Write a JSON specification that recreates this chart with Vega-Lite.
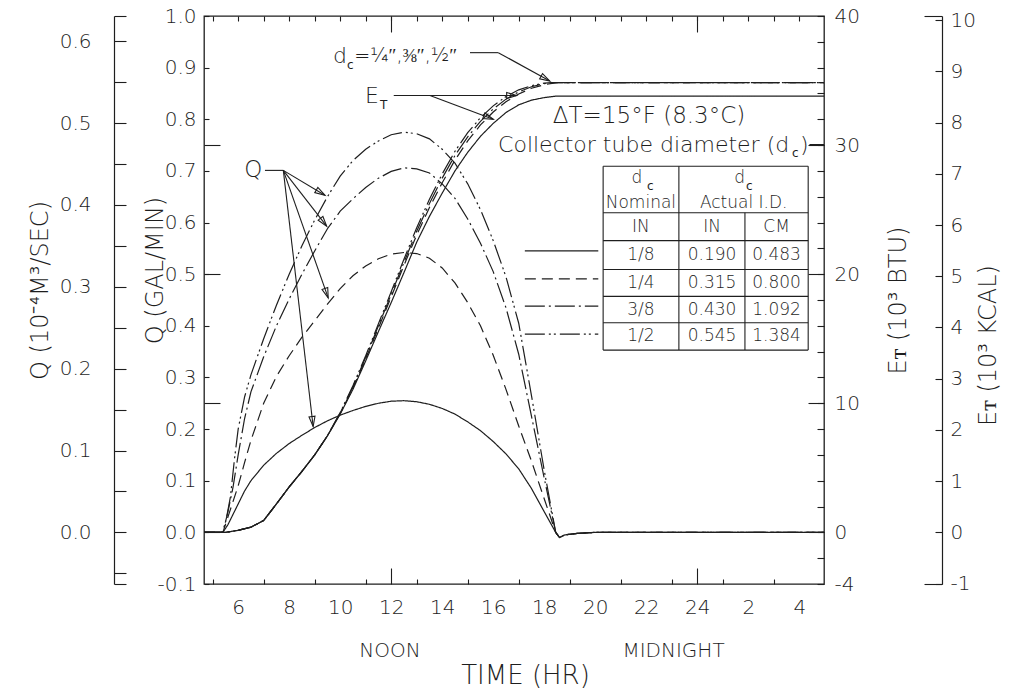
{
  "$schema": "https://vega.github.io/schema/vega-lite/v6.json",
  "width": 620,
  "height": 568,
  "autosize": {"type": "none"},
  "padding": {"left": 204, "top": 16, "right": 186, "bottom": 104},
  "background": "white",
  "config": {
    "view": {"stroke": "#1e1e1e", "strokeWidth": 1.3},
    "axis": {"labelFont": "DejaVu Sans", "labelFontWeight": 200, "labelFontSize": 20, "labelColor": "#1e1e1e", "titleFont": "DejaVu Sans", "titleFontWeight": 200, "titleFontSize": 24, "titleColor": "#1e1e1e", "tickColor": "#1e1e1e", "tickWidth": 1.1, "domainColor": "#1e1e1e", "domainWidth": 1.2, "grid": false, "labelFlush": false, "labelOverlap": false, "labelBound": false},
    "text": {"font": "DejaVu Sans", "fontWeight": 200, "color": "#1e1e1e"}
  },
  "datasets": {
    "q": [
      {"hr":4.66,"q":0,"dc":"1/8"},{"hr":5.4,"q":0,"dc":"1/8"},{"hr":5.6,"q":0.015,"dc":"1/8"},{"hr":5.8,"q":0.035,"dc":"1/8"},{"hr":6.0,"q":0.055,"dc":"1/8"},{"hr":6.25,"q":0.08,"dc":"1/8"},{"hr":6.5,"q":0.1,"dc":"1/8"},{"hr":7.0,"q":0.13,"dc":"1/8"},{"hr":7.5,"q":0.153,"dc":"1/8"},{"hr":8.0,"q":0.172,"dc":"1/8"},{"hr":8.5,"q":0.188,"dc":"1/8"},{"hr":9.0,"q":0.203,"dc":"1/8"},{"hr":9.5,"q":0.216,"dc":"1/8"},{"hr":10.0,"q":0.227,"dc":"1/8"},{"hr":10.5,"q":0.236,"dc":"1/8"},{"hr":11.0,"q":0.244,"dc":"1/8"},{"hr":11.5,"q":0.25,"dc":"1/8"},{"hr":12.0,"q":0.254,"dc":"1/8"},{"hr":12.5,"q":0.255,"dc":"1/8"},{"hr":13.0,"q":0.253,"dc":"1/8"},{"hr":13.5,"q":0.248,"dc":"1/8"},{"hr":14.0,"q":0.24,"dc":"1/8"},{"hr":14.5,"q":0.229,"dc":"1/8"},{"hr":15.0,"q":0.214,"dc":"1/8"},{"hr":15.5,"q":0.197,"dc":"1/8"},{"hr":16.0,"q":0.176,"dc":"1/8"},{"hr":16.5,"q":0.152,"dc":"1/8"},{"hr":17.0,"q":0.123,"dc":"1/8"},{"hr":17.5,"q":0.085,"dc":"1/8"},{"hr":18.0,"q":0.04,"dc":"1/8"},{"hr":18.45,"q":0,"dc":"1/8"},{"hr":18.6,"q":-0.01,"dc":"1/8"},{"hr":18.8,"q":-0.005,"dc":"1/8"},{"hr":19.3,"q":-0.002,"dc":"1/8"},{"hr":20.0,"q":0,"dc":"1/8"},{"hr":28.97,"q":0,"dc":"1/8"},
      {"hr":4.66,"q":0,"dc":"1/4"},{"hr":5.4,"q":0,"dc":"1/4"},{"hr":5.6,"q":0.03,"dc":"1/4"},{"hr":5.8,"q":0.06,"dc":"1/4"},{"hr":6.0,"q":0.09,"dc":"1/4"},{"hr":6.25,"q":0.135,"dc":"1/4"},{"hr":6.5,"q":0.178,"dc":"1/4"},{"hr":7.0,"q":0.25,"dc":"1/4"},{"hr":7.5,"q":0.302,"dc":"1/4"},{"hr":8.0,"q":0.342,"dc":"1/4"},{"hr":8.5,"q":0.378,"dc":"1/4"},{"hr":9.0,"q":0.41,"dc":"1/4"},{"hr":9.5,"q":0.442,"dc":"1/4"},{"hr":10.0,"q":0.472,"dc":"1/4"},{"hr":10.5,"q":0.497,"dc":"1/4"},{"hr":11.0,"q":0.516,"dc":"1/4"},{"hr":11.5,"q":0.53,"dc":"1/4"},{"hr":12.0,"q":0.539,"dc":"1/4"},{"hr":12.5,"q":0.542,"dc":"1/4"},{"hr":13.0,"q":0.54,"dc":"1/4"},{"hr":13.5,"q":0.531,"dc":"1/4"},{"hr":14.0,"q":0.512,"dc":"1/4"},{"hr":14.5,"q":0.483,"dc":"1/4"},{"hr":15.0,"q":0.445,"dc":"1/4"},{"hr":15.5,"q":0.4,"dc":"1/4"},{"hr":16.0,"q":0.343,"dc":"1/4"},{"hr":16.5,"q":0.277,"dc":"1/4"},{"hr":17.0,"q":0.206,"dc":"1/4"},{"hr":17.5,"q":0.138,"dc":"1/4"},{"hr":18.0,"q":0.065,"dc":"1/4"},{"hr":18.45,"q":0,"dc":"1/4"},{"hr":18.6,"q":-0.01,"dc":"1/4"},{"hr":18.8,"q":-0.005,"dc":"1/4"},{"hr":19.3,"q":-0.002,"dc":"1/4"},{"hr":20.0,"q":0,"dc":"1/4"},{"hr":28.97,"q":0,"dc":"1/4"},
      {"hr":4.66,"q":0,"dc":"3/8"},{"hr":5.4,"q":0,"dc":"3/8"},{"hr":5.6,"q":0.04,"dc":"3/8"},{"hr":5.8,"q":0.088,"dc":"3/8"},{"hr":6.0,"q":0.15,"dc":"3/8"},{"hr":6.25,"q":0.22,"dc":"3/8"},{"hr":6.5,"q":0.272,"dc":"3/8"},{"hr":7.0,"q":0.34,"dc":"3/8"},{"hr":7.5,"q":0.4,"dc":"3/8"},{"hr":8.0,"q":0.452,"dc":"3/8"},{"hr":8.5,"q":0.5,"dc":"3/8"},{"hr":9.0,"q":0.545,"dc":"3/8"},{"hr":9.5,"q":0.588,"dc":"3/8"},{"hr":10.0,"q":0.622,"dc":"3/8"},{"hr":10.5,"q":0.646,"dc":"3/8"},{"hr":11.0,"q":0.668,"dc":"3/8"},{"hr":11.5,"q":0.686,"dc":"3/8"},{"hr":12.0,"q":0.699,"dc":"3/8"},{"hr":12.5,"q":0.706,"dc":"3/8"},{"hr":13.0,"q":0.704,"dc":"3/8"},{"hr":13.5,"q":0.696,"dc":"3/8"},{"hr":14.0,"q":0.675,"dc":"3/8"},{"hr":14.5,"q":0.647,"dc":"3/8"},{"hr":15.0,"q":0.607,"dc":"3/8"},{"hr":15.5,"q":0.56,"dc":"3/8"},{"hr":16.0,"q":0.505,"dc":"3/8"},{"hr":16.5,"q":0.435,"dc":"3/8"},{"hr":17.0,"q":0.345,"dc":"3/8"},{"hr":17.5,"q":0.225,"dc":"3/8"},{"hr":18.0,"q":0.105,"dc":"3/8"},{"hr":18.45,"q":0,"dc":"3/8"},{"hr":18.6,"q":-0.01,"dc":"3/8"},{"hr":18.8,"q":-0.005,"dc":"3/8"},{"hr":19.3,"q":-0.002,"dc":"3/8"},{"hr":20.0,"q":0,"dc":"3/8"},{"hr":28.97,"q":0,"dc":"3/8"},
      {"hr":4.66,"q":0,"dc":"1/2"},{"hr":5.4,"q":0,"dc":"1/2"},{"hr":5.55,"q":0.03,"dc":"1/2"},{"hr":5.7,"q":0.07,"dc":"1/2"},{"hr":5.85,"q":0.14,"dc":"1/2"},{"hr":6.0,"q":0.2,"dc":"1/2"},{"hr":6.25,"q":0.262,"dc":"1/2"},{"hr":6.5,"q":0.305,"dc":"1/2"},{"hr":7.0,"q":0.375,"dc":"1/2"},{"hr":7.5,"q":0.44,"dc":"1/2"},{"hr":8.0,"q":0.5,"dc":"1/2"},{"hr":8.5,"q":0.555,"dc":"1/2"},{"hr":9.0,"q":0.605,"dc":"1/2"},{"hr":9.5,"q":0.65,"dc":"1/2"},{"hr":10.0,"q":0.69,"dc":"1/2"},{"hr":10.5,"q":0.72,"dc":"1/2"},{"hr":11.0,"q":0.742,"dc":"1/2"},{"hr":11.5,"q":0.758,"dc":"1/2"},{"hr":12.0,"q":0.77,"dc":"1/2"},{"hr":12.5,"q":0.775,"dc":"1/2"},{"hr":13.0,"q":0.772,"dc":"1/2"},{"hr":13.5,"q":0.762,"dc":"1/2"},{"hr":14.0,"q":0.742,"dc":"1/2"},{"hr":14.5,"q":0.715,"dc":"1/2"},{"hr":15.0,"q":0.675,"dc":"1/2"},{"hr":15.5,"q":0.625,"dc":"1/2"},{"hr":16.0,"q":0.565,"dc":"1/2"},{"hr":16.5,"q":0.495,"dc":"1/2"},{"hr":17.0,"q":0.405,"dc":"1/2"},{"hr":17.5,"q":0.265,"dc":"1/2"},{"hr":18.0,"q":0.12,"dc":"1/2"},{"hr":18.45,"q":0,"dc":"1/2"},{"hr":18.6,"q":-0.01,"dc":"1/2"},{"hr":18.8,"q":-0.005,"dc":"1/2"},{"hr":19.3,"q":-0.002,"dc":"1/2"},{"hr":20.0,"q":0,"dc":"1/2"},{"hr":28.97,"q":0,"dc":"1/2"}
    ],
    "et": [
      {"hr":4.66,"btu":0,"dc":"1/8"},{"hr":5.5,"btu":0,"dc":"1/8"},{"hr":6.0,"btu":0.16,"dc":"1/8"},{"hr":6.5,"btu":0.4,"dc":"1/8"},{"hr":7.0,"btu":0.92,"dc":"1/8"},{"hr":7.5,"btu":2.2,"dc":"1/8"},{"hr":8.0,"btu":3.52,"dc":"1/8"},{"hr":8.5,"btu":4.72,"dc":"1/8"},{"hr":9.0,"btu":6.0,"dc":"1/8"},{"hr":9.5,"btu":7.48,"dc":"1/8"},{"hr":10.0,"btu":9.16,"dc":"1/8"},{"hr":10.5,"btu":11.08,"dc":"1/8"},{"hr":11.0,"btu":13.28,"dc":"1/8"},{"hr":11.5,"btu":15.56,"dc":"1/8"},{"hr":12.0,"btu":17.8,"dc":"1/8"},{"hr":12.5,"btu":20.12,"dc":"1/8"},{"hr":13.0,"btu":22.48,"dc":"1/8"},{"hr":13.5,"btu":24.48,"dc":"1/8"},{"hr":14.0,"btu":26.28,"dc":"1/8"},{"hr":14.5,"btu":28.0,"dc":"1/8"},{"hr":15.0,"btu":29.44,"dc":"1/8"},{"hr":15.5,"btu":30.68,"dc":"1/8"},{"hr":16.0,"btu":31.68,"dc":"1/8"},{"hr":16.5,"btu":32.52,"dc":"1/8"},{"hr":17.0,"btu":33.12,"dc":"1/8"},{"hr":17.5,"btu":33.48,"dc":"1/8"},{"hr":18.0,"btu":33.68,"dc":"1/8"},{"hr":18.5,"btu":33.8,"dc":"1/8"},{"hr":28.97,"btu":33.8,"dc":"1/8"},
      {"hr":4.66,"btu":0,"dc":"1/4"},{"hr":5.5,"btu":0,"dc":"1/4"},{"hr":6.0,"btu":0.16,"dc":"1/4"},{"hr":6.5,"btu":0.4,"dc":"1/4"},{"hr":7.0,"btu":0.92,"dc":"1/4"},{"hr":7.5,"btu":2.2,"dc":"1/4"},{"hr":8.0,"btu":3.52,"dc":"1/4"},{"hr":8.5,"btu":4.72,"dc":"1/4"},{"hr":9.0,"btu":6.0,"dc":"1/4"},{"hr":9.5,"btu":7.48,"dc":"1/4"},{"hr":10.0,"btu":9.2,"dc":"1/4"},{"hr":10.5,"btu":11.2,"dc":"1/4"},{"hr":11.0,"btu":13.44,"dc":"1/4"},{"hr":11.5,"btu":15.84,"dc":"1/4"},{"hr":12.0,"btu":18.24,"dc":"1/4"},{"hr":12.5,"btu":20.68,"dc":"1/4"},{"hr":13.0,"btu":23.04,"dc":"1/4"},{"hr":13.5,"btu":25.16,"dc":"1/4"},{"hr":14.0,"btu":27.08,"dc":"1/4"},{"hr":14.5,"btu":28.84,"dc":"1/4"},{"hr":15.0,"btu":30.32,"dc":"1/4"},{"hr":15.5,"btu":31.56,"dc":"1/4"},{"hr":16.0,"btu":32.56,"dc":"1/4"},{"hr":16.5,"btu":33.36,"dc":"1/4"},{"hr":17.0,"btu":33.96,"dc":"1/4"},{"hr":17.5,"btu":34.4,"dc":"1/4"},{"hr":18.0,"btu":34.68,"dc":"1/4"},{"hr":18.5,"btu":34.84,"dc":"1/4"},{"hr":28.97,"btu":34.84,"dc":"1/4"},
      {"hr":4.66,"btu":0,"dc":"3/8"},{"hr":5.5,"btu":0,"dc":"3/8"},{"hr":6.0,"btu":0.16,"dc":"3/8"},{"hr":6.5,"btu":0.4,"dc":"3/8"},{"hr":7.0,"btu":0.92,"dc":"3/8"},{"hr":7.5,"btu":2.2,"dc":"3/8"},{"hr":8.0,"btu":3.52,"dc":"3/8"},{"hr":8.5,"btu":4.72,"dc":"3/8"},{"hr":9.0,"btu":6.0,"dc":"3/8"},{"hr":9.5,"btu":7.48,"dc":"3/8"},{"hr":10.0,"btu":9.24,"dc":"3/8"},{"hr":10.5,"btu":11.28,"dc":"3/8"},{"hr":11.0,"btu":13.56,"dc":"3/8"},{"hr":11.5,"btu":16.0,"dc":"3/8"},{"hr":12.0,"btu":18.44,"dc":"3/8"},{"hr":12.5,"btu":20.92,"dc":"3/8"},{"hr":13.0,"btu":23.32,"dc":"3/8"},{"hr":13.5,"btu":25.48,"dc":"3/8"},{"hr":14.0,"btu":27.44,"dc":"3/8"},{"hr":14.5,"btu":29.2,"dc":"3/8"},{"hr":15.0,"btu":30.64,"dc":"3/8"},{"hr":15.5,"btu":31.84,"dc":"3/8"},{"hr":16.0,"btu":32.8,"dc":"3/8"},{"hr":16.5,"btu":33.56,"dc":"3/8"},{"hr":17.0,"btu":34.12,"dc":"3/8"},{"hr":17.5,"btu":34.52,"dc":"3/8"},{"hr":18.0,"btu":34.76,"dc":"3/8"},{"hr":18.4,"btu":34.84,"dc":"3/8"},{"hr":28.97,"btu":34.84,"dc":"3/8"},
      {"hr":4.66,"btu":0,"dc":"1/2"},{"hr":5.5,"btu":0,"dc":"1/2"},{"hr":6.0,"btu":0.16,"dc":"1/2"},{"hr":6.5,"btu":0.4,"dc":"1/2"},{"hr":7.0,"btu":0.92,"dc":"1/2"},{"hr":7.5,"btu":2.2,"dc":"1/2"},{"hr":8.0,"btu":3.52,"dc":"1/2"},{"hr":8.5,"btu":4.72,"dc":"1/2"},{"hr":9.0,"btu":6.0,"dc":"1/2"},{"hr":9.5,"btu":7.48,"dc":"1/2"},{"hr":10.0,"btu":9.28,"dc":"1/2"},{"hr":10.5,"btu":11.36,"dc":"1/2"},{"hr":11.0,"btu":13.68,"dc":"1/2"},{"hr":11.5,"btu":16.16,"dc":"1/2"},{"hr":12.0,"btu":18.64,"dc":"1/2"},{"hr":12.5,"btu":21.16,"dc":"1/2"},{"hr":13.0,"btu":23.6,"dc":"1/2"},{"hr":13.5,"btu":25.8,"dc":"1/2"},{"hr":14.0,"btu":27.76,"dc":"1/2"},{"hr":14.5,"btu":29.52,"dc":"1/2"},{"hr":15.0,"btu":30.96,"dc":"1/2"},{"hr":15.5,"btu":32.12,"dc":"1/2"},{"hr":16.0,"btu":33.04,"dc":"1/2"},{"hr":16.5,"btu":33.76,"dc":"1/2"},{"hr":17.0,"btu":34.28,"dc":"1/2"},{"hr":17.5,"btu":34.6,"dc":"1/2"},{"hr":18.0,"btu":34.8,"dc":"1/2"},{"hr":18.3,"btu":34.84,"dc":"1/2"},{"hr":28.97,"btu":34.84,"dc":"1/2"}
    ],
    "legendlines": [
      {"hr":17.24,"q":0.545,"dc":"1/8"},{"hr":20.12,"q":0.545,"dc":"1/8"},
      {"hr":17.24,"q":0.491,"dc":"1/4"},{"hr":20.12,"q":0.491,"dc":"1/4"},
      {"hr":17.24,"q":0.438,"dc":"3/8"},{"hr":20.12,"q":0.438,"dc":"3/8"},
      {"hr":17.24,"q":0.384,"dc":"1/2"},{"hr":20.12,"q":0.384,"dc":"1/2"}
    ],
    "rules": [
      {"hr":20.31,"q":0.709,"hr2":28.35,"q2":0.709},
      {"hr":20.31,"q":0.619,"hr2":28.35,"q2":0.619},
      {"hr":20.31,"q":0.565,"hr2":28.35,"q2":0.565},
      {"hr":20.31,"q":0.509,"hr2":28.35,"q2":0.509},
      {"hr":20.31,"q":0.457,"hr2":28.35,"q2":0.457},
      {"hr":20.31,"q":0.406,"hr2":28.35,"q2":0.406},
      {"hr":20.31,"q":0.353,"hr2":28.35,"q2":0.353},
      {"hr":20.31,"q":0.353,"hr2":20.31,"q2":0.709},
      {"hr":23.28,"q":0.353,"hr2":23.28,"q2":0.709},
      {"hr":28.35,"q":0.353,"hr2":28.35,"q2":0.709},
      {"hr":25.87,"q":0.353,"hr2":25.87,"q2":0.619},
      {"hr":7.05,"q":0.701,"hr2":7.77,"q2":0.701},
      {"hr":7.77,"q":0.701,"hr2":9.4,"q2":0.653},
      {"hr":7.77,"q":0.701,"hr2":9.47,"q2":0.593},
      {"hr":7.77,"q":0.701,"hr2":9.53,"q2":0.454},
      {"hr":7.77,"q":0.701,"hr2":8.94,"q2":0.205},
      {"hr":12.1,"q":0.846,"hr2":16.92,"q2":0.846},
      {"hr":13.52,"q":0.846,"hr2":16.0,"q2":0.8},
      {"hr":15.09,"q":0.929,"hr2":16.2,"q2":0.929},
      {"hr":16.2,"q":0.929,"hr2":18.22,"q2":0.874},
      {"hr":28.4,"q":0.751,"hr2":28.97,"q2":0.751}
    ],
    "heads": [
      {"hr":9.4,"q":0.653,"ang":30.8},
      {"hr":9.47,"q":0.593,"ang":52.1},
      {"hr":9.53,"q":0.454,"ang":70.6},
      {"hr":8.94,"q":0.205,"ang":83.4},
      {"hr":16.92,"q":0.846,"ang":0},
      {"hr":16.0,"q":0.8,"ang":20.6},
      {"hr":18.22,"q":0.874,"ang":28.9}
    ],
    "bigc": [
      {"hr":6.59,"q":0.701,"t":"Q"},
      {"hr":22.11,"q":0.806,"t":"ΔT=15°F (8.3°C)"}
    ],
    "bigl": [
      {"hr":10.97,"q":0.845,"t":"E"},
      {"hr":9.72,"q":0.922,"t":"d"},
      {"hr":16.19,"q":0.751,"t":"Collector tube diameter (d"},
      {"hr":28.03,"q":0.751,"t":")"}
    ],
    "fracs": [
      {"hr":10.55,"q":0.922,"t":"=¼″,⅜″,½″"}
    ],
    "subs": [
      {"hr":11.56,"q":0.828,"t":"T"},
      {"hr":10.27,"q":0.905,"t":"c"},
      {"hr":27.72,"q":0.735,"t":"c"},
      {"hr":22.03,"q":0.671,"t":"c"},
      {"hr":25.91,"q":0.671,"t":"c"}
    ],
    "tbl": [
      {"hr":21.63,"q":0.686,"t":"d"},
      {"hr":25.66,"q":0.686,"t":"d"},
      {"hr":21.79,"q":0.638,"t":"Nominal"},
      {"hr":25.82,"q":0.638,"t":"Actual I.D."},
      {"hr":21.79,"q":0.592,"t":"IN"},
      {"hr":24.58,"q":0.592,"t":"IN"},
      {"hr":27.11,"q":0.592,"t":"CM"},
      {"hr":21.79,"q":0.537,"t":"1/8"},{"hr":24.58,"q":0.537,"t":"0.190"},{"hr":27.11,"q":0.537,"t":"0.483"},
      {"hr":21.79,"q":0.483,"t":"1/4"},{"hr":24.58,"q":0.483,"t":"0.315"},{"hr":27.11,"q":0.483,"t":"0.800"},
      {"hr":21.79,"q":0.431,"t":"3/8"},{"hr":24.58,"q":0.431,"t":"0.430"},{"hr":27.11,"q":0.431,"t":"1.092"},
      {"hr":21.79,"q":0.38,"t":"1/2"},{"hr":24.58,"q":0.38,"t":"0.545"},{"hr":27.11,"q":0.38,"t":"1.384"}
    ],
    "bottom": [
      {"hr":11.95,"q":-0.23,"t":"NOON"},
      {"hr":23.07,"q":-0.23,"t":"MIDNIGHT"}
    ],
    "dummy": [{"hr":12,"v":0}]
  },
  "layer": [
    {
      "layer": [
        {
          "data": {"name": "q"},
          "mark": {"type": "line", "color": "#1e1e1e", "strokeWidth": 1.2},
          "encoding": {
            "x": {"field": "hr", "type": "quantitative", "scale": {"domain": [4.66, 28.97], "nice": false, "zero": false},
              "axis": {"orient": "bottom", "values": [5,6,7,8,9,10,11,12,13,14,15,16,17,18,19,20,21,22,23,24,25,26,27,28], "tickSize": -5, "domain": false, "labels": false, "title": null}},
            "y": {"field": "q", "type": "quantitative", "scale": {"domain": [-0.1, 1.0], "nice": false, "zero": false},
              "axis": {"orient": "left", "values": [-0.1,-0.05,0,0.05,0.1,0.15,0.2,0.25,0.3,0.35,0.4,0.45,0.5,0.55,0.6,0.65,0.7,0.75,0.8,0.85,0.9,0.95,1.0], "tickSize": -5, "domain": false, "labelPadding": 13, "labelExpr": "abs(datum.value * 10 - round(datum.value * 10)) < 0.001 ? replace(format(datum.value, '.1f'), '−', '-') : ''", "title": "Q (GAL/MIN)", "titleX": -49, "titleY": 254, "titleAngle": 270, "titleAlign": "center", "titleBaseline": "middle"}},
            "strokeDash": {"field": "dc", "type": "nominal", "scale": {"domain": ["1/8", "1/4", "3/8", "1/2"], "range": [[1, 0], [11, 6], [20, 4, 2, 4], [20, 4, 2, 3, 2, 4]]}, "legend": null}
          }
        },
        {
          "data": {"name": "legendlines"},
          "mark": {"type": "line", "color": "#1e1e1e", "strokeWidth": 1.2},
          "encoding": {
            "x": {"field": "hr", "type": "quantitative", "scale": {"domain": [4.66, 28.97], "nice": false, "zero": false}},
            "y": {"field": "q", "type": "quantitative", "scale": {"domain": [-0.1, 1.0], "nice": false, "zero": false}},
            "strokeDash": {"field": "dc", "type": "nominal", "scale": {"domain": ["1/8", "1/4", "3/8", "1/2"], "range": [[1, 0], [11, 6], [20, 4, 2, 4], [20, 4, 2, 3, 2, 4]]}, "legend": null}
          }
        },
        {
          "data": {"name": "rules"},
          "mark": {"type": "rule", "color": "#1e1e1e", "strokeWidth": 1.1},
          "encoding": {
            "x": {"field": "hr", "type": "quantitative", "scale": {"domain": [4.66, 28.97], "nice": false, "zero": false}},
            "y": {"field": "q", "type": "quantitative", "scale": {"domain": [-0.1, 1.0], "nice": false, "zero": false}},
            "x2": {"field": "hr2"},
            "y2": {"field": "q2"}
          }
        },
        {
          "data": {"name": "heads"},
          "mark": {"type": "point", "shape": "M0,0L-1,-0.3L-1,0.3Z", "filled": false, "stroke": "#1e1e1e", "strokeWidth": 1.1, "size": 400, "opacity": 1},
          "encoding": {
            "x": {"field": "hr", "type": "quantitative", "scale": {"domain": [4.66, 28.97], "nice": false, "zero": false}},
            "y": {"field": "q", "type": "quantitative", "scale": {"domain": [-0.1, 1.0], "nice": false, "zero": false}},
            "angle": {"field": "ang", "type": "quantitative", "scale": null}
          }
        },
        {
          "data": {"name": "bigc"},
          "mark": {"type": "text", "fontSize": 23, "align": "center", "baseline": "middle"},
          "encoding": {
            "x": {"field": "hr", "type": "quantitative", "scale": {"domain": [4.66, 28.97], "nice": false, "zero": false}},
            "y": {"field": "q", "type": "quantitative", "scale": {"domain": [-0.1, 1.0], "nice": false, "zero": false}},
            "text": {"field": "t"}
          }
        },
        {
          "data": {"name": "bigl"},
          "mark": {"type": "text", "fontSize": 22, "align": "left", "baseline": "middle"},
          "encoding": {
            "x": {"field": "hr", "type": "quantitative", "scale": {"domain": [4.66, 28.97], "nice": false, "zero": false}},
            "y": {"field": "q", "type": "quantitative", "scale": {"domain": [-0.1, 1.0], "nice": false, "zero": false}},
            "text": {"field": "t"}
          }
        },
        {
          "data": {"name": "fracs"},
          "mark": {"type": "text", "fontSize": 19, "align": "left", "baseline": "middle"},
          "encoding": {
            "x": {"field": "hr", "type": "quantitative", "scale": {"domain": [4.66, 28.97], "nice": false, "zero": false}},
            "y": {"field": "q", "type": "quantitative", "scale": {"domain": [-0.1, 1.0], "nice": false, "zero": false}},
            "text": {"field": "t"}
          }
        },
        {
          "data": {"name": "subs"},
          "mark": {"type": "text", "fontSize": 12, "fontWeight": 400, "align": "left", "baseline": "middle"},
          "encoding": {
            "x": {"field": "hr", "type": "quantitative", "scale": {"domain": [4.66, 28.97], "nice": false, "zero": false}},
            "y": {"field": "q", "type": "quantitative", "scale": {"domain": [-0.1, 1.0], "nice": false, "zero": false}},
            "text": {"field": "t"}
          }
        },
        {
          "data": {"name": "tbl"},
          "mark": {"type": "text", "fontSize": 17, "align": "center", "baseline": "middle"},
          "encoding": {
            "x": {"field": "hr", "type": "quantitative", "scale": {"domain": [4.66, 28.97], "nice": false, "zero": false}},
            "y": {"field": "q", "type": "quantitative", "scale": {"domain": [-0.1, 1.0], "nice": false, "zero": false}},
            "text": {"field": "t"}
          }
        },
        {
          "data": {"name": "bottom"},
          "mark": {"type": "text", "fontSize": 20, "align": "center", "baseline": "middle"},
          "encoding": {
            "x": {"field": "hr", "type": "quantitative", "scale": {"domain": [4.66, 28.97], "nice": false, "zero": false}},
            "y": {"field": "q", "type": "quantitative", "scale": {"domain": [-0.1, 1.0], "nice": false, "zero": false}},
            "text": {"field": "t"}
          }
        }
      ]
    },
    {
      "data": {"name": "et"},
      "mark": {"type": "line", "color": "#1e1e1e", "strokeWidth": 1.2},
      "encoding": {
        "x": {"field": "hr", "type": "quantitative", "scale": {"domain": [4.66, 28.97], "nice": false, "zero": false},
          "axis": {"orient": "top", "values": [5,6,7,8,9,10,11,12,13,14,15,16,17,18,19,20,21,22,23,24,25,26,27,28], "tickSize": -5, "labels": false, "domain": false, "title": null}},
        "y": {"field": "btu", "type": "quantitative", "scale": {"domain": [-4, 40], "nice": false, "zero": false},
          "axis": {"orient": "right", "values": [-4,-2,0,2,4,6,8,10,12,14,16,18,20,22,24,26,28,30,32,34,36,38,40], "tickSize": -7, "domain": false, "labelPadding": 17, "labelExpr": "(datum.value == -4 || datum.value % 10 == 0) ? '' + datum.value : ''", "title": "Eᴛ (10³ BTU)", "titleX": 74, "titleY": 284, "titleAngle": 270, "titleAlign": "center", "titleBaseline": "middle"}},
        "strokeDash": {"field": "dc", "type": "nominal", "scale": {"domain": ["1/8", "1/4", "3/8", "1/2"], "range": [[1, 0], [11, 6], [20, 4, 2, 4], [20, 4, 2, 3, 2, 4]]}, "legend": null}
      }
    },
    {
      "data": {"name": "dummy"},
      "mark": {"type": "point", "opacity": 0},
      "encoding": {
        "x": {"field": "hr", "type": "quantitative", "scale": {"domain": [4.66, 28.97], "nice": false, "zero": false},
          "axis": {"orient": "bottom", "values": [6,8,10,12,14,16,18,20,22,24,26,28], "ticks": false, "domain": false, "labelPadding": 13, "labelExpr": "datum.value > 24 ? toString(datum.value - 24) : toString(datum.value)", "title": "TIME (HR)", "titleFontSize": 26, "titleX": 321, "titleY": 91, "titleAlign": "center", "titleBaseline": "middle", "titleAngle": 0}},
        "y": {"field": "v", "type": "quantitative", "scale": {"domain": [-0.1, 1.0], "nice": false, "zero": false}, "axis": null}
      }
    },
    {
      "data": {"name": "dummy"},
      "mark": {"type": "point", "opacity": 0},
      "encoding": {
        "x": {"field": "hr", "type": "quantitative", "scale": {"domain": [4.66, 28.97], "nice": false, "zero": false},
          "axis": {"orient": "bottom", "values": [12, 24], "tickSize": -16, "labels": false, "domain": false, "title": null}},
        "y": {"field": "v", "type": "quantitative", "scale": {"domain": [-0.06309, 0.6309], "nice": false, "zero": false},
          "axis": {"orient": "left", "offset": 90, "values": [-0.06309,-0.05,0,0.05,0.1,0.15,0.2,0.25,0.3,0.35,0.4,0.45,0.5,0.55,0.6,0.6309], "tickSize": -12, "domain": true, "labelPadding": 35, "labelExpr": "(datum.value >= 0 && datum.value < 0.62 && abs(datum.value * 10 - round(datum.value * 10)) < 0.001) ? format(datum.value, '.1f') : ''", "title": "Q (10⁻⁴M³/SEC)", "titleX": -74, "titleY": 274, "titleAngle": 270, "titleAlign": "center", "titleBaseline": "middle"}}
      }
    },
    {
      "data": {"name": "dummy"},
      "mark": {"type": "point", "opacity": 0},
      "encoding": {
        "x": {"field": "hr", "type": "quantitative", "scale": {"domain": [4.66, 28.97], "nice": false, "zero": false},
          "axis": {"orient": "top", "values": [12, 24], "tickSize": -16, "labels": false, "domain": false, "title": null}},
        "y": {"field": "v", "type": "quantitative", "scale": {"domain": [-1.008, 10.08], "nice": false, "zero": false},
          "axis": {"orient": "right", "offset": 118, "values": [-1,0,1,2,3,4,5,6,7,8,9,10], "tickSize": -7, "domain": true, "labelPadding": 15, "labelExpr": "'' + datum.value", "title": "Eᴛ (10³ KCAL)", "titleX": 46, "titleY": 329, "titleAngle": 270, "titleAlign": "center", "titleBaseline": "middle"}}
      }
    },
    {
      "data": {"name": "dummy"},
      "mark": {"type": "point", "opacity": 0},
      "encoding": {
        "x": {"field": "hr", "type": "quantitative", "scale": {"domain": [4.66, 28.97], "nice": false, "zero": false}, "axis": null},
        "y": {"field": "v", "type": "quantitative", "scale": {"domain": [-0.1, 1.0], "nice": false, "zero": false},
          "axis": {"orient": "left", "values": [0, 0.25, 0.5, 0.75], "tickSize": -16, "labels": false, "domain": false, "title": null}}
      }
    },
    {
      "data": {"name": "dummy"},
      "mark": {"type": "point", "opacity": 0},
      "encoding": {
        "x": {"field": "hr", "type": "quantitative", "scale": {"domain": [4.66, 28.97], "nice": false, "zero": false}, "axis": null},
        "y": {"field": "v", "type": "quantitative", "scale": {"domain": [-4, 40], "nice": false, "zero": false},
          "axis": {"orient": "right", "values": [0, 10, 20, 30], "tickSize": -16, "labels": false, "domain": false, "title": null}}
      }
    },
    {
      "data": {"name": "dummy"},
      "mark": {"type": "point", "opacity": 0},
      "encoding": {
        "x": {"field": "hr", "type": "quantitative", "scale": {"domain": [4.66, 28.97], "nice": false, "zero": false}, "axis": null},
        "y": {"field": "v", "type": "quantitative", "scale": {"domain": [-1.008, 10.08], "nice": false, "zero": false},
          "axis": {"orient": "right", "offset": 118, "values": [-1.008, 10.08], "tickSize": -18, "labels": false, "domain": false, "title": null}}
      }
    }
  ],
  "resolve": {"scale": {"x": "independent", "y": "independent"}, "axis": {"x": "independent", "y": "independent"}}
}
